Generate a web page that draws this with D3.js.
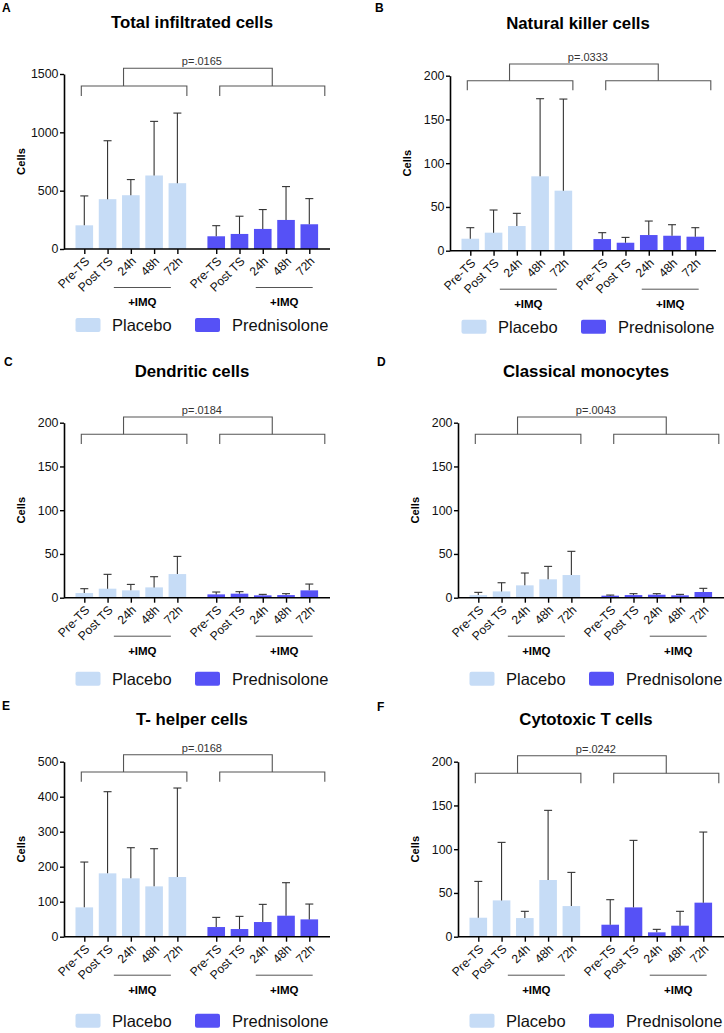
<!DOCTYPE html>
<html>
<head>
<meta charset="utf-8">
<script src="https://cdn.jsdelivr.net/npm/d3@7"></script>
<style>
  body { margin: 0; background: #fff; }
  svg { display: block; font-family: "Liberation Sans", Arial, sans-serif; }
</style>
</head>
<body>
<svg id="chart" width="724" height="1033"></svg>
<script>
// categories
const timepoints = ['Pre-TS', 'Post TS', '24h', '48h', '72h'];
const groups = ['Placebo', 'Prednisolone'];
const colors = ['#c6dcf6', '#5651f6'];

// means and SD
const totalPlacebo   = [203, 427, 461, 630, 564];
const totalPlaceboSD = [252, 501, 134, 464, 601];
const totalPred      = [109, 129, 172, 249, 212];
const totalPredSD    = [91, 152, 166, 286, 220];

const nkPlacebo   = [13.7, 20.6, 28.2, 85, 68.6];
const nkPlaceboSD = [12.6, 25.9, 14.5, 88.7, 104.7];
const nkPred      = [13.3, 9.1, 17.9, 17.1, 16.0];
const nkPredSD    = [7.3, 6.1, 16.0, 12.6, 10.3];

const dcPlacebo   = [5.3, 10.3, 8.4, 11.8, 27.0];
const dcPlaceboSD = [5.0, 16.4, 6.8, 12.2, 20.2];
const dcPred      = [3.8, 4.6, 2.7, 3.0, 8.4];
const dcPredSD    = [2.7, 2.3, 1.1, 1.6, 7.2];

const monoPlacebo   = [3.0, 7.2, 14.1, 21.0, 25.9];
const monoPlaceboSD = [3.1, 9.9, 14.1, 14.8, 27.1];
const monoPred      = [2.3, 3.0, 3.4, 2.7, 6.5];
const monoPredSD    = [0.7, 1.6, 1.2, 1.1, 4.2];

const thPlacebo   = [83.8, 181, 166.7, 143.8, 170.5];
const thPlaceboSD = [129.5, 233.3, 87.6, 107.6, 254.3];
const thPred      = [27.6, 21.9, 41.9, 60, 49.5];
const thPredSD    = [27.6, 36.2, 50.5, 94.3, 43.8];

const ctPlacebo   = [21.7, 41.5, 21.3, 64.8, 35.0];
const ctPlaceboSD = [41.5, 66.3, 7.7, 79.6, 38.5];
const ctPred      = [13.7, 33.5, 5.0, 12.6, 38.9];
const ctPredSD    = [28.6, 76.6, 3.4, 16.4, 80.7];

const letters = ['A', 'B', 'C', 'D', 'E', 'F'];
const titles = ['Total infiltrated cells', 'Natural killer cells', 'Dendritic cells',
                'Classical monocytes', 'T- helper cells', 'Cytotoxic T cells'];
const pLabels = ['p=.0165', 'p=.0333', 'p=.0184', 'p=.0043', 'p=.0168', 'p=.0242'];
const yTicks = [[0, 500, 1000, 1500], [0, 50, 100, 150, 200], [0, 50, 100, 150, 200],
                [0, 50, 100, 150, 200], [0, 100, 200, 300, 400, 500], [0, 50, 100, 150, 200]];

const means = [[totalPlacebo, totalPred], [nkPlacebo, nkPred], [dcPlacebo, dcPred],
               [monoPlacebo, monoPred], [thPlacebo, thPred], [ctPlacebo, ctPred]];
const sds = [[totalPlaceboSD, totalPredSD], [nkPlaceboSD, nkPredSD], [dcPlaceboSD, dcPredSD],
             [monoPlaceboSD, monoPredSD], [thPlaceboSD, thPredSD], [ctPlaceboSD, ctPredSD]];

// layout of each panel (pixels)
const layout = [
  {x0: 64,  y0: 249,   yT: 74,    lx: 2,   ly: 12,  tOff: 220.7, br: [-5.7, 12, 22],   leg: 69},
  {x0: 450, y0: 250.7, yT: 75.7,  lx: 375, ly: 12,  tOff: 221.4, br: [-11.7, 5, 14.6], leg: 69},
  {x0: 64,  y0: 597.7, yT: 422.7, lx: 4,   ly: 366, tOff: 221,   br: [-5.7, 11.6, 21.3], leg: 74},
  {x0: 458, y0: 597.7, yT: 422.7, lx: 377, ly: 366, tOff: 221,   br: [-5.7, 11.6, 21.3], leg: 74},
  {x0: 64,  y0: 936.7, yT: 761.7, lx: 2,   ly: 710, tOff: 211.7, br: [-7, 10.3, 20],   leg: 77},
  {x0: 458, y0: 936.7, yT: 761.7, lx: 377, ly: 711, tOff: 211.7, br: [-6, 11.6, 21.6], leg: 77}
];

const groupShift = 5.67;   // slot offset of second group
const axisLen = 266;
const barW = 17.6;

const svg = d3.select('#chart');

layout.forEach((L, p) => {
  const g = svg.append('g');
  const y = d3.scaleLinear()
      .domain([0, d3.max(yTicks[p])])
      .range([L.y0, L.yT]);
  const xs = d3.scaleLinear()
      .domain([0, 4 + groupShift])
      .range([L.x0 + 20.3, L.x0 + 245.3]);

  // flat rows
  const rows = [];
  groups.forEach((grp, gi) => {
    timepoints.forEach((tp, i) => {
      rows.push({group: gi, tp: tp, slot: i + gi * groupShift,
                 mean: means[p][gi][i], sd: sds[p][gi][i]});
    });
  });

  // panel letter and title
  g.append('text').attr('x', L.lx).attr('y', L.ly)
    .attr('font-size', 12).attr('font-weight', 'bold').text(letters[p]);
  g.append('text').attr('x', L.x0 + 128).attr('y', L.y0 - L.tOff)
    .attr('text-anchor', 'middle').attr('font-size', 16.8).attr('font-weight', 'bold')
    .text(titles[p]);

  // bars
  g.append('g').selectAll('rect')
    .data(rows)
    .join('rect')
    .attr('x', d => xs(d.slot) - barW / 2)
    .attr('width', barW)
    .attr('y', d => y(d.mean))
    .attr('height', d => L.y0 - y(d.mean))
    .attr('fill', d => colors[d.group]);

  // error bars (upper only)
  const eb = g.append('g').attr('stroke', '#333').attr('stroke-width', 1.1);
  eb.selectAll('line.v')
    .data(rows)
    .join('line')
    .attr('class', 'v')
    .attr('x1', d => xs(d.slot)).attr('x2', d => xs(d.slot))
    .attr('y1', d => y(d.mean)).attr('y2', d => y(d.mean + d.sd));
  eb.selectAll('line.c')
    .data(rows)
    .join('line')
    .attr('class', 'c')
    .attr('x1', d => xs(d.slot) - 4).attr('x2', d => xs(d.slot) + 4)
    .attr('y1', d => y(d.mean + d.sd)).attr('y2', d => y(d.mean + d.sd));

  // y axis
  const ya = g.append('g')
    .attr('transform', `translate(${L.x0},0)`)
    .call(d3.axisLeft(y).tickValues(yTicks[p]).tickFormat(d3.format('d'))
      .tickSize(4).tickPadding(1.5).tickSizeOuter(0));
  ya.select('.domain').attr('stroke', '#000').attr('stroke-width', 1.6);
  ya.selectAll('.tick line').attr('stroke', '#000').attr('stroke-width', 1.4);
  ya.selectAll('.tick text').attr('font-size', 12.4).attr('fill', '#111')
    .attr('font-family', '"Liberation Sans", Arial, sans-serif');

  g.append('text')
    .attr('transform', `translate(${L.x0 - 39},${(L.y0 + L.yT) / 2}) rotate(-90)`)
    .attr('text-anchor', 'middle').attr('font-size', 11.2).attr('font-weight', 'bold')
    .text('Cells');

  // x axis
  const xa = g.append('g')
    .attr('transform', `translate(0,${L.y0})`)
    .call(d3.axisBottom(xs).tickValues(rows.map(d => d.slot)).tickSize(5).tickFormat(''));
  xa.select('.domain').remove();
  xa.selectAll('.tick line').attr('stroke', '#000').attr('stroke-width', 1.4);
  g.append('line')
    .attr('x1', L.x0).attr('x2', L.x0 + axisLen)
    .attr('y1', L.y0).attr('y2', L.y0)
    .attr('stroke', '#000').attr('stroke-width', 1.6);

  g.append('g').selectAll('text')
    .data(rows)
    .join('text')
    .attr('transform', d => `translate(${xs(d.slot) + 3},${L.y0 + 10}) rotate(-45)`)
    .attr('text-anchor', 'end')
    .attr('dy', '0.35em')
    .attr('font-size', 12.2)
    .attr('fill', '#111')
    .text(d => d.tp);

  // +IMQ lines
  const imq = [
    [xs(2) - 17, xs(4) - 6.5],
    [xs(2 + groupShift) - 7, xs(4 + groupShift) + 3.4]
  ];
  imq.forEach(([a, b]) => {
    g.append('line').attr('x1', a).attr('x2', b)
      .attr('y1', L.y0 + 38.5).attr('y2', L.y0 + 38.5)
      .attr('stroke', '#555').attr('stroke-width', 1);
    g.append('text').attr('x', (a + b) / 2).attr('y', L.y0 + 57)
      .attr('text-anchor', 'middle').attr('font-size', 11.5).attr('font-weight', 'bold')
      .text('+IMQ');
  });

  // significance brackets
  const yTop = L.yT + L.br[0], yLow = L.yT + L.br[1], yEnd = L.yT + L.br[2];
  const brk = [
    [xs(0) - 3, xs(4) + 9.5, 0.4],
    [xs(groupShift) + 3.5, xs(4 + groupShift) + 15.5, 0.5]
  ];
  const tops = [];
  const bg = g.append('g').attr('fill', 'none').attr('stroke', '#555').attr('stroke-width', 1.1);
  brk.forEach(([a, b, f]) => {
    bg.append('path').attr('d', `M${a},${yEnd}V${yLow}H${b}V${yEnd}`);
    tops.push(a + f * (b - a));
  });
  bg.append('path').attr('d', `M${tops[0]},${yLow}V${yTop}H${tops[1]}V${yLow}`);
  g.append('text').attr('x', (tops[0] + tops[1]) / 2 + 4).attr('y', yTop - 3)
    .attr('text-anchor', 'middle').attr('font-size', 11).attr('fill', '#333')
    .text(pLabels[p]);

  // legend
  const legX = [[11.5, 48], [131, 168]];
  groups.forEach((grp, gi) => {
    g.append('rect')
      .attr('x', L.x0 + legX[gi][0]).attr('y', L.y0 + L.leg)
      .attr('width', 25).attr('height', 14).attr('rx', 2)
      .attr('fill', colors[gi]);
    g.append('text')
      .attr('x', L.x0 + legX[gi][1]).attr('y', L.y0 + L.leg + 12.8)
      .attr('font-size', 16.5).attr('fill', '#111')
      .text(grp);
  });
});
</script>
</body>
</html>
